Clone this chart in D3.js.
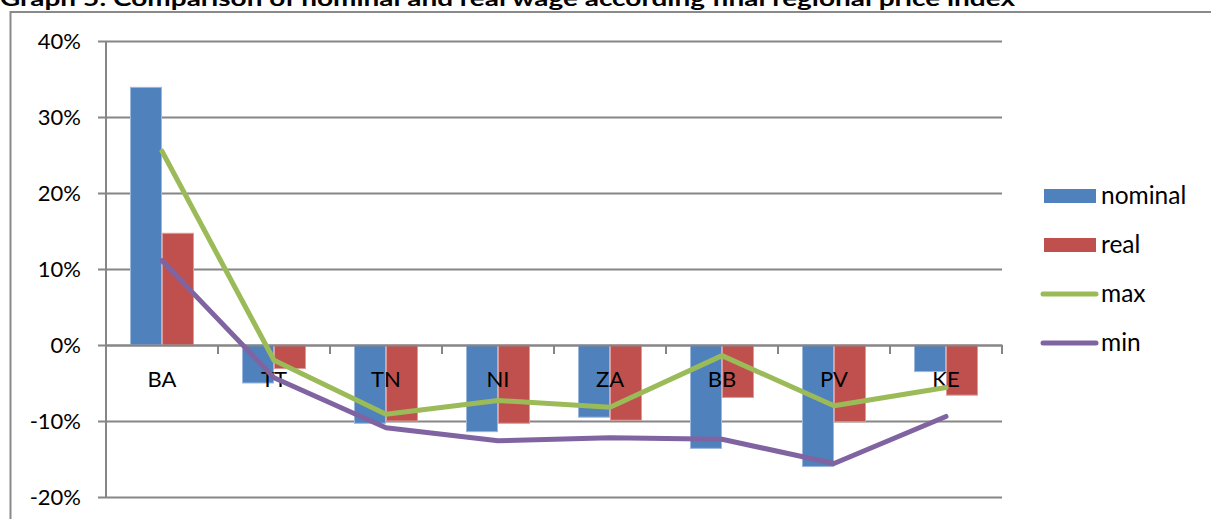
<!DOCTYPE html>
<html>
<head>
<meta charset="utf-8">
<script src="https://cdn.jsdelivr.net/npm/d3@7"></script>
<style>
  html, body { margin: 0; padding: 0; background: #fff; }
  svg { display: block; }
</style>
</head>
<body>
<svg id="chart" width="1211" height="519"></svg>
<script>
// Regions and wage differences (share of national average)
const regions = ["BA", "TT", "TN", "NI", "ZA", "BB", "PV", "KE"];
const nominal = [0.339, -0.050, -0.103, -0.114, -0.095, -0.136, -0.160, -0.035];
const real    = [0.147, -0.031, -0.100, -0.103, -0.099, -0.069, -0.101, -0.066];
const maxVals = [0.255, -0.020, -0.091, -0.073, -0.082, -0.014, -0.080, -0.056];
const minVals = [0.111, -0.043, -0.109, -0.126, -0.122, -0.124, -0.156, -0.094];
const yTicks  = [-0.2, -0.1, 0, 0.1, 0.2, 0.3, 0.4];
const title = "Graph 5: Comparison of nominal and real wage according final regional price index";

const colors = { nominal: "#4F81BD", real: "#C0504D", max: "#9BBB59", min: "#8064A2" };
const borders = { nominal: "#9BB7DE", real: "#DE9A98" };
const font = "Lato, 'Open Sans', sans-serif";

const svg = d3.select("#chart");

// Title (running off the top edge) and the outer frame
svg.append("text")
  .attr("x", 0).attr("y", 6)
  .attr("font-family", font).attr("font-weight", "bold").attr("font-size", 21)
  .attr("textLength", 1015).attr("lengthAdjust", "spacingAndGlyphs")
  .attr("fill", "#000").text(title);

svg.append("path")
  .attr("d", "M10.5,530 V12 H1220")
  .attr("fill", "none").attr("stroke", "#8a8a8a").attr("stroke-width", 2);

const plot = { left: 106, right: 1002, top: 41, bottom: 497 };

const x = d3.scaleBand().domain(regions).range([plot.left, plot.right]);
const y = d3.scaleLinear().domain([-0.2, 0.4]).range([plot.bottom, plot.top]);
// the pair of bars takes 64 of each 112 px category, leaving 24 px either side
const inner = d3.scaleBand().domain(["nominal", "real"]).range([24, x.bandwidth() - 24]);

const grid = "#868686";
const pct = d => Math.round(d * 100) + "%";

// Horizontal gridlines with left tick marks
const yAxis = d3.axisLeft(y).tickValues(yTicks)
  .tickSize(-(plot.right - plot.left)).tickPadding(25)
  .tickFormat(pct);
const yg = svg.append("g").attr("transform", `translate(${plot.left},0)`).call(yAxis);
yg.select(".domain").remove();
yg.selectAll(".tick line").attr("stroke", grid).attr("stroke-width", 2)
  .attr("x1", -8).attr("x2", plot.right - plot.left);
yg.selectAll(".tick text")
  .attr("font-family", font).attr("font-size", 22).attr("fill", "#000");

// Bars
const series = [["nominal", nominal], ["real", real]];
series.forEach(([key, vals]) => {
  svg.append("g").selectAll("rect").data(vals).join("rect")
    .attr("x", (d, i) => x(regions[i]) + inner(key) + 0.5)
    .attr("width", inner.bandwidth() - 1)
    .attr("y", d => y(Math.max(0, d)))
    .attr("height", d => Math.abs(y(d) - y(0)))
    .attr("fill", colors[key])
    .attr("stroke", borders[key]).attr("stroke-width", 1);
});

// Value axis line and category axis at zero
svg.append("line")
  .attr("x1", plot.left).attr("x2", plot.left)
  .attr("y1", plot.top).attr("y2", plot.bottom + 1)
  .attr("stroke", grid).attr("stroke-width", 2);

const xAxis = d3.axisBottom(x).tickSize(0).tickPadding(0);
const xg = svg.append("g").attr("transform", `translate(0,${y(0)})`).call(xAxis);
xg.select(".domain").attr("stroke", grid).attr("stroke-width", 2);
xg.selectAll(".tick text")
  .attr("font-family", font).attr("font-size", 22).attr("fill", "#000")
  .attr("dy", 0).attr("y", 42);

// Category separator ticks below the zero line
svg.append("g").selectAll("line").data(regions).join("line")
  .attr("x1", d => x(d) + x.bandwidth()).attr("x2", d => x(d) + x.bandwidth())
  .attr("y1", y(0)).attr("y2", y(0) + 9)
  .attr("stroke", grid).attr("stroke-width", 2);

// Max and min lines
const line = d3.line()
  .x((d, i) => x(regions[i]) + x.bandwidth() / 2)
  .y(d => y(d));
[["max", maxVals], ["min", minVals]].forEach(([key, vals]) => {
  svg.append("path").datum(vals)
    .attr("d", line)
    .attr("fill", "none").attr("stroke", colors[key])
    .attr("stroke-width", 5).attr("stroke-linejoin", "round").attr("stroke-linecap", "round");
});

// Legend
const legend = [
  { key: "nominal", type: "rect" },
  { key: "real", type: "rect" },
  { key: "max", type: "line" },
  { key: "min", type: "line" }
];
const lg = svg.append("g");
legend.forEach((d, i) => {
  const cy = 196 + i * 49;
  if (d.type === "rect") {
    lg.append("rect").attr("x", 1044).attr("y", cy - 7).attr("width", 52).attr("height", 14)
      .attr("fill", colors[d.key]);
  } else {
    lg.append("line").attr("x1", 1043).attr("x2", 1096).attr("y1", cy).attr("y2", cy)
      .attr("stroke", colors[d.key]).attr("stroke-width", 5).attr("stroke-linecap", "round");
  }
  lg.append("text").attr("x", 1101).attr("y", cy + 8)
    .attr("font-family", font).attr("font-size", 24.5).attr("fill", "#000").text(d.key);
});
</script>
</body>
</html>
